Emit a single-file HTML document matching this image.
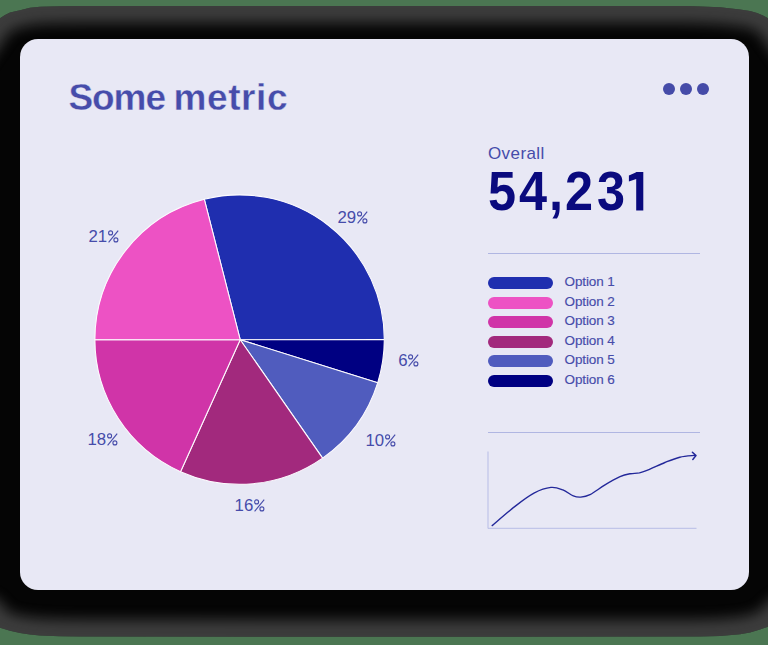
<!DOCTYPE html>
<html><head><meta charset="utf-8">
<style>
html,body{margin:0;padding:0;}
body{width:768px;height:645px;overflow:hidden;position:relative;background:#4b7652;font-family:"Liberation Sans",sans-serif;}
#card{position:absolute;left:20px;top:39px;width:729px;height:551px;border-radius:18px;background:#e8e8f5;}
.t{position:absolute;white-space:nowrap;line-height:1;}
#title2{left:173.5px;top:79px;font-size:37px;font-weight:bold;letter-spacing:0.6px;color:#464caa;-webkit-text-stroke:0.35px #e8e8f5;}
#title{left:68.5px;top:79px;font-size:37px;font-weight:bold;letter-spacing:-1.1px;color:#464caa;-webkit-text-stroke:0.35px #e8e8f5;}
.dot{position:absolute;top:82.5px;width:12px;height:12px;border-radius:50%;background:#454ba8;}
#overall{left:488px;top:145px;font-size:17px;letter-spacing:0.4px;color:#464caa;}
.n{position:absolute;top:163.2px;font-size:56px;font-weight:bold;color:#0a0a7e;line-height:1;transform:scaleX(.9);transform-origin:0 0;}
.hr{position:absolute;left:488px;width:212px;height:1px;background:#b0b6e2;}
.bar{position:absolute;left:488px;width:64.5px;height:12px;border-radius:6px;}
.opt{position:absolute;left:564.5px;font-size:13.5px;letter-spacing:-0.1px;color:#464caa;-webkit-text-stroke:0.15px #464caa;line-height:1;white-space:nowrap;}
.pct{position:absolute;font-size:16.8px;color:#464caa;line-height:1;white-space:nowrap;}
svg{position:absolute;left:0;top:0;}
.pc{position:absolute;top:1px;fill:none;stroke:#464caa;stroke-width:1.1;}
</style></head><body>
<svg id="bgsvg" width="768" height="645" viewBox="0 0 768 645">
<defs><clipPath id="sc"><path d="M-36 72 L-24 50 L-12 34 L-6 24 L-2 19.8 L0 18.2 L5 15 L10 12.5 L20 10.2 L30 7.8 L40 6.8 L60 6.3 L80 6.1 L384 6 L688 6.1 L720 7.3 L740 9.4 L750 11 L757 13 L763 15.5 L768 18.2 L770 19.8 L774 24 L780 34 L792 50 L804 72 L804 588 L792 610 L780 614 L774 621 L770 625 L768 626.7 L760 629.5 L750 632.6 L740 634.3 L720 635.9 L700 636.5 L384 636.8 L80 636.5 L60 636.2 L40 635.6 L30 634.5 L20 633 L10 630.8 L0 627.7 L-2 626 L-6 622 L-12 614 L-24 610 L-36 588 Z"/></clipPath><filter id="fb" x="-10%" y="-10%" width="120%" height="120%"><feGaussianBlur stdDeviation="7"/></filter></defs>
<path d="M-36 72 L-24 50 L-12 34 L-6 24 L-2 19.8 L0 18.2 L5 15 L10 12.5 L20 10.2 L30 7.8 L40 6.8 L60 6.3 L80 6.1 L384 6 L688 6.1 L720 7.3 L740 9.4 L750 11 L757 13 L763 15.5 L768 18.2 L770 19.8 L774 24 L780 34 L792 50 L804 72 L804 588 L792 610 L780 614 L774 621 L770 625 L768 626.7 L760 629.5 L750 632.6 L740 634.3 L720 635.9 L700 636.5 L384 636.8 L80 636.5 L60 636.2 L40 635.6 L30 634.5 L20 633 L10 630.8 L0 627.7 L-2 626 L-6 622 L-12 614 L-24 610 L-36 588 Z" fill="#050505"/>
<g clip-path="url(#sc)"><path d="M-36 72 L-24 50 L-12 34 L-6 24 L-2 19.8 L0 18.2 L5 15 L10 12.5 L20 10.2 L30 7.8 L40 6.8 L60 6.3 L80 6.1 L384 6 L688 6.1 L720 7.3 L740 9.4 L750 11 L757 13 L763 15.5 L768 18.2 L770 19.8 L774 24 L780 34 L792 50 L804 72 L804 588 L792 610 L780 614 L774 621 L770 625 L768 626.7 L760 629.5 L750 632.6 L740 634.3 L720 635.9 L700 636.5 L384 636.8 L80 636.5 L60 636.2 L40 635.6 L30 634.5 L20 633 L10 630.8 L0 627.7 L-2 626 L-6 622 L-12 614 L-24 610 L-36 588 Z" fill="none" stroke="#8a8a8a" stroke-width="34" filter="url(#fb)" opacity=".42"/></g>
</svg>
<div id="card"></div>
<div class="t" id="title">Some</div><div class="t" id="title2">metric</div>
<div class="dot" style="left:663.3px"></div>
<div class="dot" style="left:680.3px"></div>
<div class="dot" style="left:697.4px"></div>
<div class="t" id="overall">Overall</div>
<div class="n" style="left:488.4px">5</div><div class="n" style="left:518.7px">4</div><div class="n" style="left:549px">,</div><div class="n" style="left:564.6px">2</div><div class="n" style="left:596.6px">3</div>
<svg width="768" height="645" style="position:absolute;left:0;top:0"><polygon points="643.3,172 643.3,210.4 636.2,210.4 636.2,179 628.9,181.6 628.9,175.4 635.2,172.8 636.4,172" fill="#0a0a7e"/></svg>
<div class="hr" style="top:252.7px"></div>
<div class="bar" style="top:277.3px;background:#1f2eaf"></div>
<div class="bar" style="top:296.8px;background:#ed52c4"></div>
<div class="bar" style="top:316.3px;background:#d034a8"></div>
<div class="bar" style="top:335.8px;background:#a2297d"></div>
<div class="bar" style="top:355.3px;background:#505cbe"></div>
<div class="bar" style="top:374.8px;background:#000082"></div>
<div class="opt" style="top:275px">Option 1</div>
<div class="opt" style="top:294.5px">Option 2</div>
<div class="opt" style="top:314px">Option 3</div>
<div class="opt" style="top:333.5px">Option 4</div>
<div class="opt" style="top:353px">Option 5</div>
<div class="opt" style="top:372.5px">Option 6</div>
<div class="pct" style="left:337.5px;top:209.8px">29<svg class="pc" style="left:19.0px" width="11" height="13" viewBox="0 0 11 13"><path d="M0.6 12.4L10.2 0.6" /><circle cx="2.6" cy="2.9" r="2"/><circle cx="7.9" cy="9.9" r="2"/></svg></div>
<div class="pct" style="left:88.5px;top:229.1px">21<svg class="pc" style="left:19.0px" width="11" height="13" viewBox="0 0 11 13"><path d="M0.6 12.4L10.2 0.6" /><circle cx="2.6" cy="2.9" r="2"/><circle cx="7.9" cy="9.9" r="2"/></svg></div>
<div class="pct" style="left:87.5px;top:431.7px">18<svg class="pc" style="left:19.0px" width="11" height="13" viewBox="0 0 11 13"><path d="M0.6 12.4L10.2 0.6" /><circle cx="2.6" cy="2.9" r="2"/><circle cx="7.9" cy="9.9" r="2"/></svg></div>
<div class="pct" style="left:365.5px;top:433.4px">10<svg class="pc" style="left:19.0px" width="11" height="13" viewBox="0 0 11 13"><path d="M0.6 12.4L10.2 0.6" /><circle cx="2.6" cy="2.9" r="2"/><circle cx="7.9" cy="9.9" r="2"/></svg></div>
<div class="pct" style="left:398.3px;top:352.9px">6<svg class="pc" style="left:9.7px" width="11" height="13" viewBox="0 0 11 13"><path d="M0.6 12.4L10.2 0.6" /><circle cx="2.6" cy="2.9" r="2"/><circle cx="7.9" cy="9.9" r="2"/></svg></div>
<div class="pct" style="left:234.6px;top:497.9px">16<svg class="pc" style="left:19.0px" width="11" height="13" viewBox="0 0 11 13"><path d="M0.6 12.4L10.2 0.6" /><circle cx="2.6" cy="2.9" r="2"/><circle cx="7.9" cy="9.9" r="2"/></svg></div>
<div class="hr" style="top:431.5px"></div>
<svg width="768" height="645" viewBox="0 0 768 645">
<g id="pie" stroke="#fdfbfe" stroke-width="1.05" stroke-linejoin="round">
<path d="M240.2 339.7L204.35 199.26A144.7 144.7 0 0 1 384.30 339.60Z" fill="#1f2eaf"/>
<path d="M240.2 339.7L384.30 339.60A144.7 144.7 0 0 1 377.68 382.87Z" fill="#000082"/>
<path d="M240.2 339.7L377.68 382.87A144.7 144.7 0 0 1 322.60 458.13Z" fill="#505cbe"/>
<path d="M240.2 339.7L322.60 458.13A144.7 144.7 0 0 1 180.51 471.69Z" fill="#a2297d"/>
<path d="M240.2 339.7L180.51 471.69A144.7 144.7 0 0 1 94.90 339.60Z" fill="#d034a8"/>
<path d="M240.2 339.7L94.90 339.60A144.7 144.7 0 0 1 204.35 199.26Z" fill="#ed52c4"/>
</g>
<line x1="488" y1="451.5" x2="488" y2="528.5" stroke="#b7bce6" stroke-width="1"/>
<line x1="488" y1="528.3" x2="696.5" y2="528.3" stroke="#b7bce6" stroke-width="1"/>
<path d="M492.2 525.6C496.0 522.4 508.0 511.8 515.0 506.4C522.0 500.9 528.4 496.1 534.4 492.9C540.4 489.7 546.1 487.9 550.9 487.4C555.6 486.9 559.2 488.5 562.9 489.9C566.6 491.3 570.3 494.7 573.3 495.9C576.3 497.1 578.0 497.3 580.8 497.1C583.6 496.9 586.0 496.7 590.0 494.7C594.0 492.7 600.0 487.9 605.0 484.9C610.0 481.9 615.8 478.6 620.0 476.7C624.2 474.8 627.2 474.3 630.4 473.7C633.6 473.1 636.1 473.6 639.4 472.9C642.6 472.1 645.6 470.9 649.9 469.2C654.1 467.5 659.9 464.5 664.9 462.5C669.9 460.5 674.8 458.4 679.8 457.2C684.8 456.0 692.3 455.7 694.8 455.4" fill="none" stroke="#23289a" stroke-width="1.4" stroke-linecap="round"/>
<path d="M692.4 452.2 L696 455.6 L692.8 459.4" fill="none" stroke="#23289a" stroke-width="1.5" stroke-linecap="round" stroke-linejoin="round"/>
</svg>
</body></html>
